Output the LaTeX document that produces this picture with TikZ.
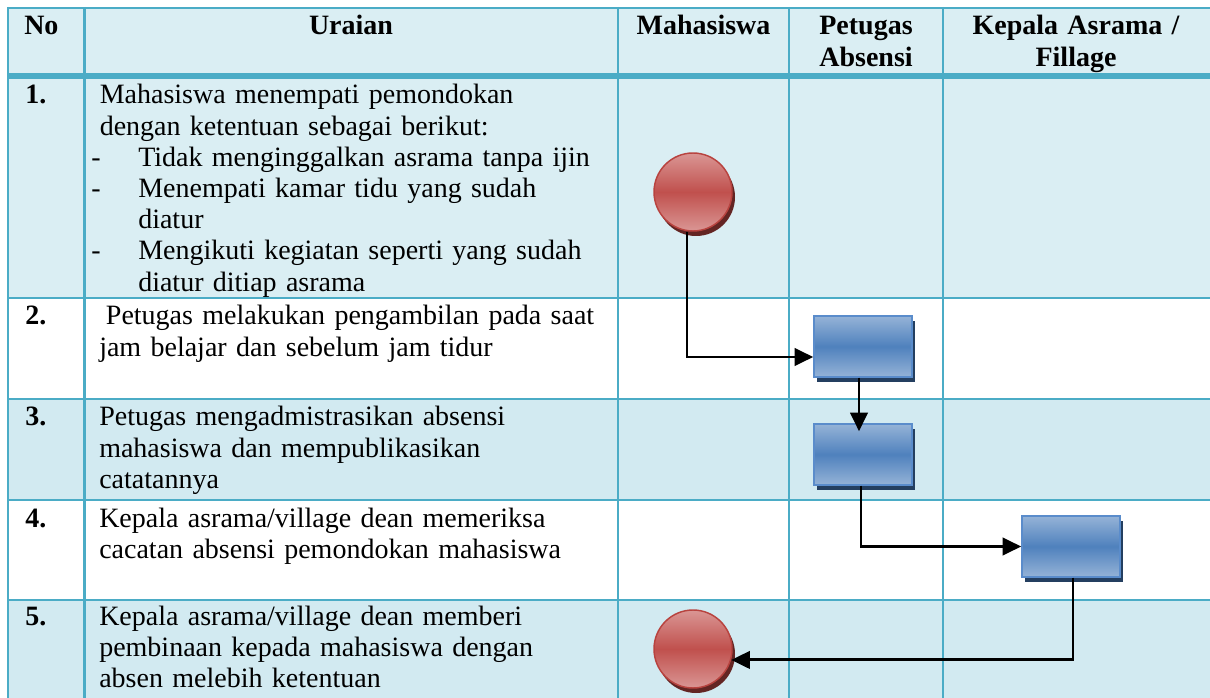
\documentclass[tikz,border=0pt]{standalone}
\usepackage{fontspec}
\setmainfont{Liberation Serif}
\usetikzlibrary{arrows.meta,shadows,calc}
\definecolor{gridc}{HTML}{4BACC6}
\definecolor{rowA}{HTML}{DAEEF3}
\definecolor{rowB}{HTML}{D2EAF1}
\definecolor{redL}{HTML}{DA9694}
\definecolor{redM}{HTML}{C0504D}
\definecolor{redE}{HTML}{B8433F}
\definecolor{redD}{HTML}{632523}
\definecolor{bluL}{HTML}{95B3D7}
\definecolor{bluM}{HTML}{4F81BD}
\definecolor{bluD}{HTML}{243F60}
\definecolor{bluE}{HTML}{5A8CCB}
\newcommand\fsz{\fontsize{21pt}{23.4pt}\selectfont}
\begin{document}
\begin{tikzpicture}[x=0.75pt,y=-0.75pt,
 gridline/.style={draw=gridc,line width=2.1pt},
 txt/.style={anchor=base west,inner sep=0pt,font=\fsz,text width=420pt,align=left},
 num/.style={anchor=base west,inner sep=0pt,font=\fsz\bfseries},
 head/.style={anchor=base,inner sep=0pt,font=\fsz\bfseries,text width=180pt,align=center},
 startend/.style={circle,minimum size=58.5pt,inner sep=0pt,top color=redL,bottom color=redL,middle color=redM,draw=redE,line width=1.1pt,general shadow={fill=redD,shadow xshift=2.25pt,shadow yshift=-3.75pt}},
 proc/.style={rectangle,minimum width=73.5pt,minimum height=45.75pt,inner sep=0pt,top color=bluL,bottom color=bluL,middle color=bluM,draw=bluE,line width=1.1pt,general shadow={fill=bluD,shadow xshift=2.25pt,shadow yshift=-3.75pt}},
 flow/.style={draw=black,line width=2.2pt,-{Triangle[length=14pt,width=13pt]}}
]
\useasboundingbox (0,0) rectangle (1210,698);
\clip (0,0) rectangle (1210,698);
% row fills
\fill[rowA] (8,8) rectangle (1215,298);
\fill[white] (8,298) rectangle (1215,399);
\fill[rowB] (8,399) rectangle (1215,500);
\fill[white] (8,500) rectangle (1215,600);
\fill[rowB] (8,600) rectangle (1215,705);
% grid
\draw[gridline] (7,8) -- (1215,8);
\draw[draw=gridc,line width=4.5pt] (7,76) -- (1215,76);
\foreach \yy in {298,399,500,600} \draw[gridline] (7,\yy) -- (1215,\yy);
\foreach \xx in {8,84.5,618,789,943} \draw[gridline] (\xx,7) -- (\xx,705);
% header
\node[num] (hno) at (24,35) {No};
\node[head] (hur) at (351,35) {Uraian};
\node[head] (hma) at (703.5,35) {Mahasiswa};
\node[head] (hpe) at (866,35) {Petugas\\Absensi};
\node[head] (hke) at (1076,35) {Kepala Asrama /\\Fillage};
% numbers
\node[num] (n1) at (25,104) {1.};
\node[num] (n2) at (25,325) {2.};
\node[num] (n3) at (25,426) {3.};
\node[num] (n4) at (25,527) {4.};
\node[num] (n5) at (25,625) {5.};
% descriptions
\node[txt] (t1) at (91,104) {\hspace*{6.4pt}Mahasiswa menempati pemondokan\\
\hspace*{6.4pt}dengan ketentuan sebagai berikut:\\
\makebox[35.25pt][l]{-}Tidak menginggalkan asrama tanpa ijin\\
\makebox[35.25pt][l]{-}Menempati kamar tidu yang sudah\\
\hspace*{35.25pt}diatur\\
\makebox[35.25pt][l]{-}Mengikuti kegiatan seperti yang sudah\\
\hspace*{35.25pt}diatur ditiap asrama};
\node[txt] (t2) at (99,325) {\hspace*{5pt}Petugas melakukan pengambilan pada saat\\jam belajar dan sebelum jam tidur};
\node[txt] (t3) at (99,426) {Petugas mengadmistrasikan absensi\\mahasiswa dan mempublikasikan\\catatannya};
\node[txt] (t4) at (99,527) {Kepala asrama/village dean memeriksa\\cacatan absensi pemondokan mahasiswa};
\node[txt] (t5) at (99,625) {Kepala asrama/village dean memberi\\pembinaan kepada mahasiswa dengan\\absen melebih ketentuan};
% shapes
\node[startend] (c1) at (693,192) {};
\node[proc] (b1) at (863,346.5) {};
\node[proc] (b2) at (863,454.5) {};
\node[proc] (b3) at (1071,546.5) {};
\node[startend] (c2) at (693,649) {};
% connectors
\draw[flow] ($(c1.south)+(-6,0)$) |- ($(b1.west)+(0,10.5)$);
\draw[flow] ($(b1.south)+(-4,0)$) -- ($(b2.north)+(-4,8)$);
\draw[flow] ($(b2.south)+(-2,0)$) |- (b3.west);
\draw[flow] ($(b3.south)+(2,0)$) |- (c2.-16);
\end{tikzpicture}
\end{document}
